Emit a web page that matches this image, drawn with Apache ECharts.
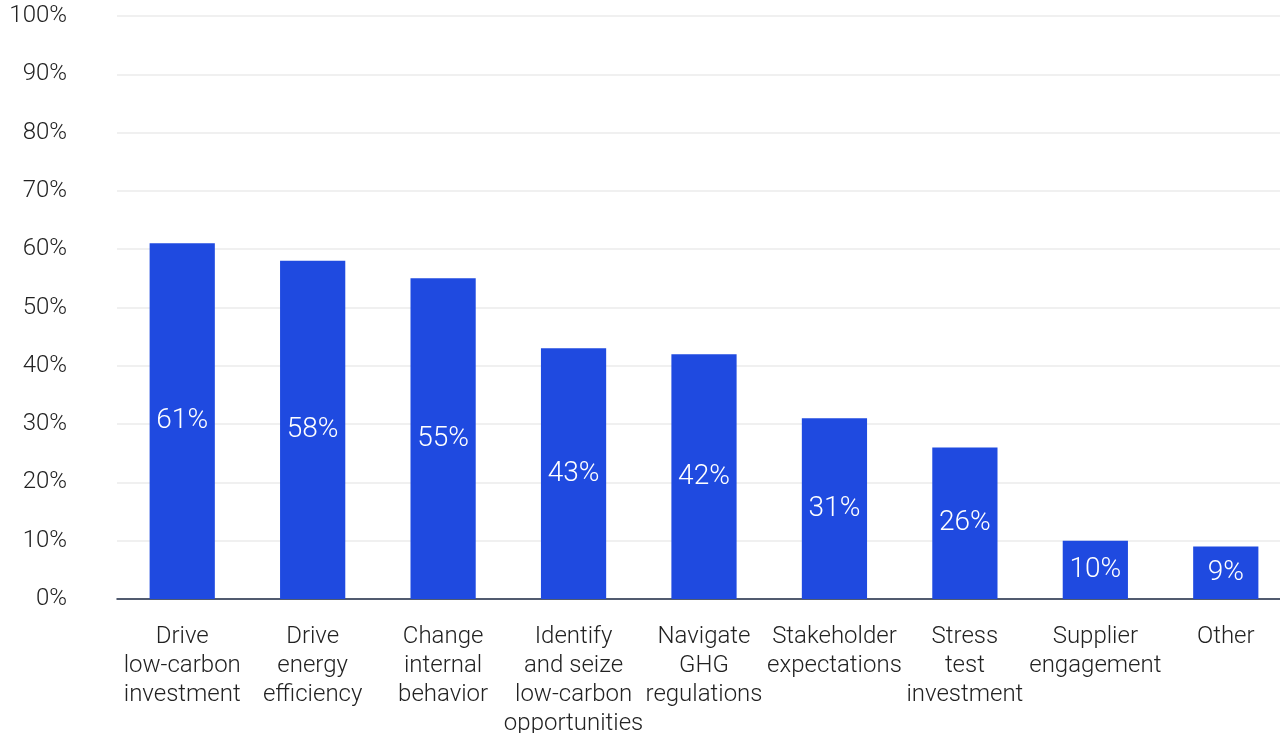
<!DOCTYPE html>
<html>
<head>
<meta charset="utf-8">
<script src="https://cdn.jsdelivr.net/npm/echarts@6/dist/echarts.min.js"></script>
<style>
  html, body { margin: 0; padding: 0; background: #fff; overflow: hidden; }
  #chart { width: 1280px; height: 733px; }
</style>
</head>
<body>
<div id="chart"></div>
<script>
const categories = [
  'Drive\nlow-carbon\ninvestment',
  'Drive\nenergy\nefficiency',
  'Change\ninternal\nbehavior',
  'Identify\nand seize\nlow-carbon\nopportunities',
  'Navigate\nGHG\nregulations',
  'Stakeholder\nexpectations',
  'Stress\ntest\ninvestment',
  'Supplier\nengagement',
  'Other'
]
const values = [61, 58, 55, 43, 42, 31, 26, 10, 9]

const chart = echarts.init(document.getElementById('chart'))
chart.setOption({
  animation: false,
  textStyle: { fontFamily: 'Roboto, sans-serif', fontWeight: 300 },
  grid: {
    left: 117,
    top: 16,
    width: 1174,
    height: 583,
    outerBoundsMode: 'none',
    containLabel: false
  },
  xAxis: {
    type: 'category',
    data: categories,
    axisTick: { show: false },
    axisLine: { lineStyle: { color: '#1c2a44', width: 1.5 } },
    axisLabel: {
      interval: 0,
      margin: 23,
      color: '#222',
      fontSize: 24,
      fontWeight: 300,
      lineHeight: 29
    }
  },
  yAxis: {
    type: 'value',
    min: 0,
    max: 100,
    interval: 10,
    axisLine: { show: false },
    axisTick: { show: false },
    splitLine: { lineStyle: { color: '#ebebeb', width: 1.5 } },
    axisLabel: {
      margin: 50,
      color: '#222',
      fontSize: 24,
      fontWeight: 300,
      formatter: '{value}%'
    }
  },
  series: [{
    type: 'bar',
    data: values,
    barWidth: '50%',
    itemStyle: { color: '#1f4ae0' },
    label: {
      show: true,
      position: 'inside',
      color: '#fff',
      fontSize: 28,
      fontWeight: 300,
      formatter: '{c}%'
    }
  }]
})
</script>
</body>
</html>
